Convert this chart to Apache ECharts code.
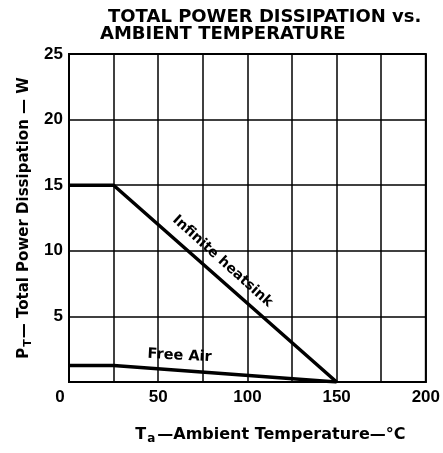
<!DOCTYPE html>
<html>
<head>
<meta charset="utf-8">
<script src="https://cdn.jsdelivr.net/npm/echarts@6/dist/echarts.min.js"></script>
<style>
html,body{margin:0;padding:0;background:#fff;}
#chart{width:443px;height:453px;}
</style>
</head>
<body>
<div id="chart"></div>
<script>
// Data
const tempC = [0, 25, 150];
const heatsinkW = [15, 15, 0];
const freeAirW = [1.25, 1.25, 0];
const xTickLabels = [0, 50, 100, 150, 200];
const yTickLabels = [5, 10, 15, 20, 25];
const titleLines = ['TOTAL POWER DISSIPATION vs.', 'AMBIENT TEMPERATURE'];
const curveNames = ['Infinite heatsink', 'Free Air'];

const FONT = 'DejaVu Sans';
const TICKFONT = 'Liberation Sans';
const chart = echarts.init(document.getElementById('chart'), null, {renderer: 'canvas'});

const zip = (xs, ys) => xs.map((x, i) => [x, ys[i]]);

chart.setOption({
  animation: false,
  backgroundColor: '#fff',
  textStyle: {fontFamily: FONT, color: '#000'},
  title: [
    {text: titleLines[0], left: 108, top: 8, padding: 0, textStyle: {fontFamily: FONT, fontSize: 18, fontWeight: 'bold', color: '#000'}},
    {text: titleLines[1], left: 100, top: 25, padding: 0, textStyle: {fontFamily: FONT, fontSize: 18, fontWeight: 'bold', color: '#000'}}
  ],
  grid: {left: 69, right: 15, top: 54, bottom: 71, show: true, borderColor: '#000', borderWidth: 2, backgroundColor: 'transparent'},
  xAxis: {
    type: 'value', min: 0, max: 200, interval: 25,
    axisLine: {show: true, lineStyle: {color: '#000', width: 2}},
    axisTick: {show: false},
    splitLine: {show: true, lineStyle: {color: '#000', width: 1.5}},
    axisLabel: {
      color: '#000', fontFamily: TICKFONT, fontWeight: 'bold', fontSize: 17, margin: 7,
      formatter: v => xTickLabels.indexOf(v) >= 0 ? (v === 0 ? '{z|0}' : String(v)) : '',
      rich: {
        z: {fontFamily: TICKFONT, fontWeight: 'bold', fontSize: 17, color: '#000', padding: [0, 18, 0, 0]}
      }
    },
    name: '{m|T}{s|a}{m|—Ambient Temperature—°C}',
    nameLocation: 'middle', nameGap: 42,
    nameTextStyle: {
      color: '#000',
      padding: [0, 0, 0, 46],
      rich: {
        m: {fontFamily: FONT, fontSize: 16, fontWeight: 'bold', color: '#000'},
        s: {fontFamily: FONT, fontSize: 12, fontWeight: 'bold', color: '#000', padding: [9, 2, 0, 1]}
      }
    }
  },
  yAxis: {
    type: 'value', min: 0, max: 25, interval: 5,
    axisLine: {show: true, lineStyle: {color: '#000', width: 2}},
    axisTick: {show: false},
    splitLine: {show: true, lineStyle: {color: '#000', width: 1.5}},
    axisLabel: {
      color: '#000', fontFamily: TICKFONT, fontWeight: 'bold', fontSize: 17, margin: 6,
      formatter: v => yTickLabels.indexOf(v) >= 0 ? String(v) : ''
    },
    name: '{m|P}{s|T}{m|— Total Power Dissipation — W}',
    nameLocation: 'middle', nameGap: 33, nameRotate: 90,
    nameTextStyle: {
      color: '#000',
      rich: {
        m: {fontFamily: FONT, fontSize: 15, fontWeight: 'bold', color: '#000'},
        s: {fontFamily: FONT, fontSize: 11, fontWeight: 'bold', color: '#000', padding: [8, 1, 0, 1]}
      }
    }
  },
  series: [
    {
      name: curveNames[0], type: 'line', data: zip(tempC, heatsinkW),
      symbol: 'none', lineStyle: {color: '#000', width: 3.5}, z: 5,
      markPoint: {
        symbol: 'circle', symbolSize: 0, silent: true,
        data: [{coord: [86, 9.2], label: {show: true, position: 'inside', formatter: curveNames[0], rotate: -42, color: '#000', fontFamily: FONT, fontWeight: 'bold', fontSize: 14}}]
      }
    },
    {
      name: curveNames[1], type: 'line', data: zip(tempC, freeAirW),
      symbol: 'none', lineStyle: {color: '#000', width: 3.5}, z: 5,
      markPoint: {
        symbol: 'circle', symbolSize: 0, silent: true,
        data: [{coord: [62, 2.0], label: {show: true, position: 'inside', formatter: curveNames[1], rotate: -3, color: '#000', fontFamily: FONT, fontWeight: 'bold', fontSize: 14.5}}]
      }
    }
  ]
});
</script>
</body>
</html>
